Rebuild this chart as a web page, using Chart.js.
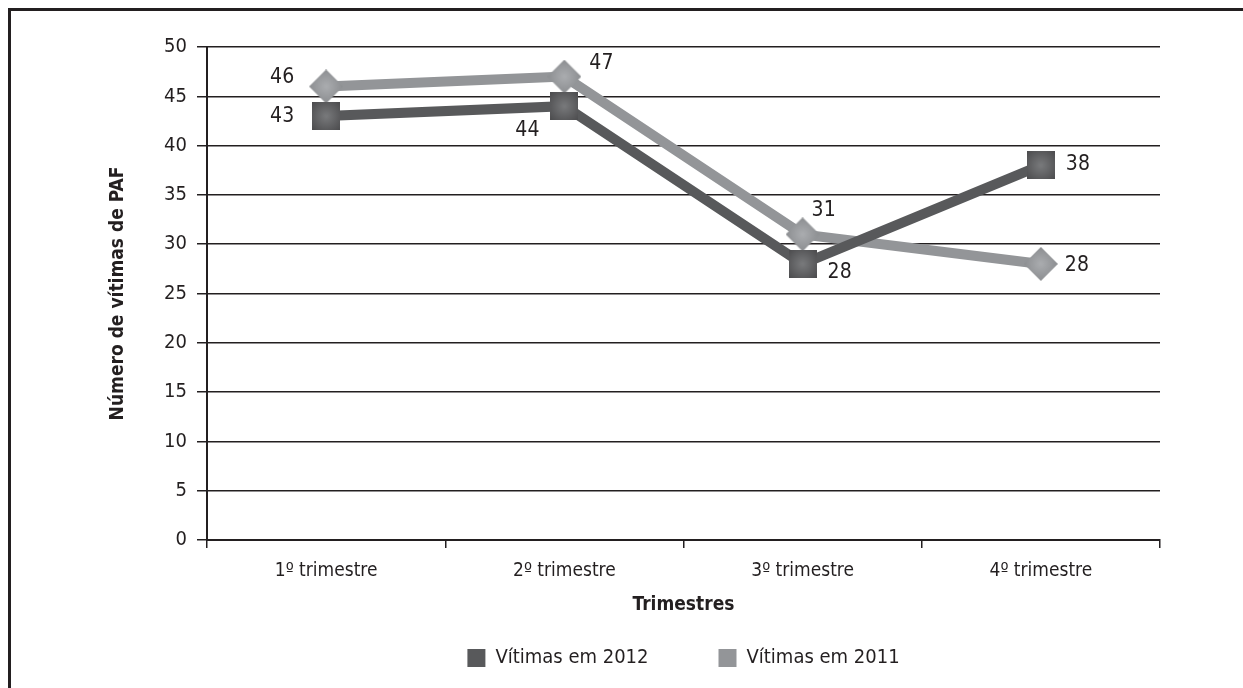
<!DOCTYPE html>
<html>
<head>
<meta charset="utf-8">
<script src="https://cdn.jsdelivr.net/npm/chart.js@4/dist/chart.umd.min.js"></script>
<style>
  html, body { margin: 0; padding: 0; background: #fff; }
  #wrap { position: relative; width: 1243px; height: 688px; }
  #frame { position: absolute; left: 8px; top: 8px; right: 0; bottom: 0; border-top: 3px solid #231f20; border-left: 3px solid #231f20; pointer-events: none; }
  canvas { position: absolute; left: 0; top: 0; }
</style>
</head>
<body>
<div id="wrap">
  <canvas id="c" width="1243" height="688"></canvas>
  <div id="frame"></div>
</div>
<script>
const categories = ['1º trimestre', '2º trimestre', '3º trimestre', '4º trimestre'];
const seriesNames = ['Vítimas em 2012', 'Vítimas em 2011'];
const values2012 = [43, 44, 28, 38];
const values2011 = [46, 47, 31, 28];
const yTitle = 'Número de vítimas de PAF';
const xTitle = 'Trimestres';

const FONT = "'Liberation Sans Narrow', 'DejaVu Sans Condensed', 'Arial Narrow', sans-serif";
const TEXT = '#231f20';
const DARK = '#58595b';
const LIGHT = '#939598';

// label offsets (pixels) relative to each point, per series
const labelOffsets = [
  [[-44, 1], [-37, 24], [37, 9], [37, -1]],
  [[-44, -9], [37, -13], [21, -24], [36, 2]]
];

function makeSquare(size, inner, outer) {
  const c = document.createElement('canvas');
  c.width = size; c.height = size;
  const g = c.getContext('2d');
  const grad = g.createRadialGradient(size/2, size/2, 1, size/2, size/2, size*0.72);
  grad.addColorStop(0, inner);
  grad.addColorStop(1, outer);
  g.fillStyle = grad;
  g.fillRect(0, 0, size, size);
  return c;
}
function makeDiamond(size, inner, outer) {
  const c = document.createElement('canvas');
  c.width = size; c.height = size;
  const g = c.getContext('2d');
  const grad = g.createRadialGradient(size/2, size/2, 1, size/2, size/2, size*0.5);
  grad.addColorStop(0, inner);
  grad.addColorStop(1, outer);
  g.fillStyle = grad;
  g.beginPath();
  g.moveTo(size/2, 0); g.lineTo(size, size/2); g.lineTo(size/2, size); g.lineTo(0, size/2);
  g.closePath(); g.fill();
  return c;
}
const squareImg = makeSquare(28, '#77787a', '#4a4a4c');
const diamondImg = makeDiamond(34, '#a9abae', '#8c8e91');

const labelPlugin = {
  id: 'pointLabels',
  afterDatasetsDraw(chart) {
    const ctx = chart.ctx;
    ctx.save();
    ctx.font = '21px ' + FONT;
    ctx.fillStyle = TEXT;
    ctx.textAlign = 'center';
    ctx.textBaseline = 'middle';
    chart.data.datasets.forEach((ds, di) => {
      const meta = chart.getDatasetMeta(di);
      meta.data.forEach((pt, i) => {
        const off = labelOffsets[di][i];
        ctx.fillText(String(ds.data[i]), pt.x + off[0], pt.y + off[1]);
      });
    });
    ctx.restore();
  }
};

const LEG_PAD = 70;
const legendPlace = {
  id: 'legendPlace',
  afterLayout(chart) {
    const lg = chart.legend;
    if (!lg) return;
    lg.top = 648 - LEG_PAD;
    lg.bottom = 688;
    lg.height = lg.bottom - lg.top;
  }
};

new Chart(document.getElementById('c'), {
  type: 'line',
  data: {
    labels: categories,
    datasets: [
      {
        label: seriesNames[0],
        data: values2012,
        borderColor: DARK,
        backgroundColor: DARK,
        borderWidth: 10,
        pointStyle: squareImg,
        pointRadius: 14,
        tension: 0,
        fill: false
      },
      {
        label: seriesNames[1],
        data: values2011,
        borderColor: LIGHT,
        backgroundColor: LIGHT,
        borderWidth: 10,
        pointStyle: diamondImg,
        pointRadius: 17,
        tension: 0,
        fill: false
      }
    ]
  },
  options: {
    responsive: false,
    animation: false,
    devicePixelRatio: 1,
    layout: { padding: { left: 100, right: 83, top: 47, bottom: 8 } },
    plugins: {
      tooltip: { enabled: false },
      legend: {
        position: 'bottom',
        fullSize: false,
        maxHeight: 40,
        labels: {
          boxWidth: 18,
          boxHeight: 18,
          padding: LEG_PAD,
          color: TEXT,
          font: { family: FONT, size: 20 },
          generateLabels(chart) {
            return Chart.defaults.plugins.legend.labels.generateLabels(chart).map(l => Object.assign(l, { lineWidth: 0, strokeStyle: 'transparent' }));
          }
        }
      }
    },
    scales: {
      x: {
        type: 'category',
        offset: true,
        afterFit(scale) { scale.height = 100; },
        grid: { offset: true, drawOnChartArea: false, drawTicks: true, tickLength: 8, color: '#231f20', lineWidth: 1.5 },
        border: { display: true, color: '#231f20', width: 2 },
        ticks: { color: TEXT, font: { family: FONT, size: 19 }, padding: 12, maxRotation: 0 },
        title: { display: true, text: xTitle, color: TEXT, font: { family: FONT, size: 19, weight: 'bold' }, padding: { top: 4, bottom: 24 } }
      },
      y: {
        min: 0,
        max: 50,
        afterFit(scale) { scale.width = 107; },
        ticks: { stepSize: 5, color: TEXT, font: { family: FONT, size: 20 }, padding: 10 },
        grid: { color: '#231f20', lineWidth: 1.5, drawTicks: true, tickLength: 10 },
        border: { display: true, color: '#231f20', width: 2 },
        title: { display: true, text: yTitle, color: TEXT, font: { family: FONT, size: 19, weight: 'bold' }, padding: { top: 7, bottom: 0 } }
      }
    }
  },
  plugins: [labelPlugin, legendPlace]
});
</script>
</body>
</html>
